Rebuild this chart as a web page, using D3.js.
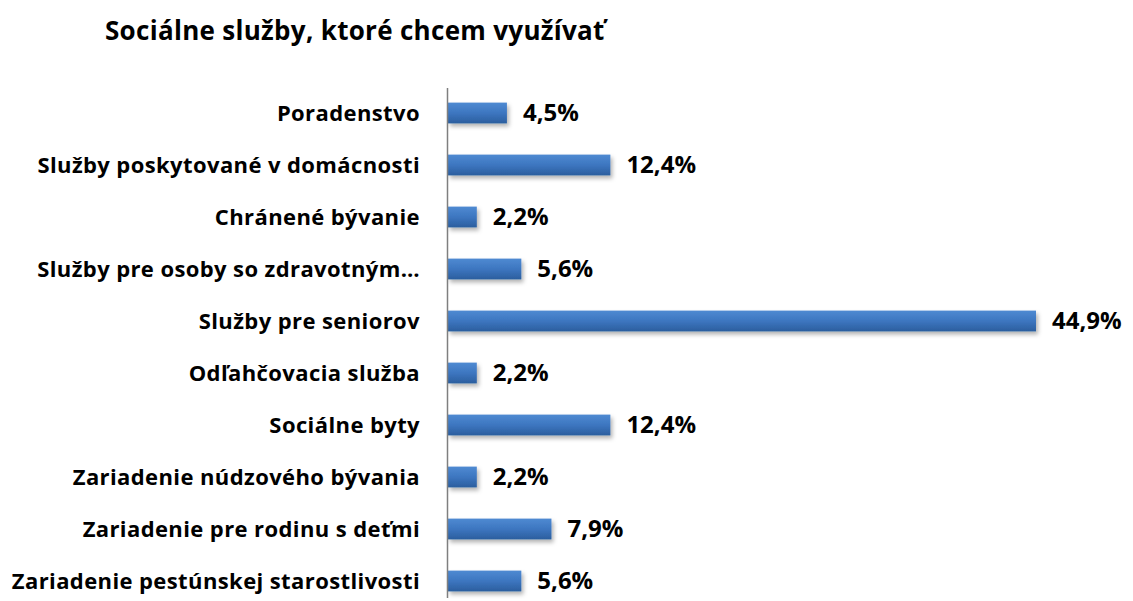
<!DOCTYPE html>
<html>
<head>
<meta charset="utf-8">
<script src="https://cdn.jsdelivr.net/npm/d3@7"></script>
<style>
  html, body { margin: 0; padding: 0; background: #fff; }
  svg { display: block; font-family: "Open Sans", Lato, sans-serif; }
</style>
</head>
<body>
<svg id="chart" width="1133" height="601"></svg>
<script>
  const categories = [
    'Poradenstvo',
    'Služby poskytované v domácnosti',
    'Chránené bývanie',
    'Služby pre osoby so zdravotným…',
    'Služby pre seniorov',
    'Odľahčovacia služba',
    'Sociálne byty',
    'Zariadenie núdzového bývania',
    'Zariadenie pre rodinu s deťmi',
    'Zariadenie pestúnskej starostlivosti'
  ];
  const values = [4.5, 12.4, 2.2, 5.6, 44.9, 2.2, 12.4, 2.2, 7.9, 5.6];
  const title = 'Sociálne služby, ktoré chcem využívať';

  const svg = d3.select('#chart');
  const axisX = 447;

  // gradient + tieň pre stĺpce
  const defs = svg.append('defs');
  const grad = defs.append('linearGradient')
    .attr('id', 'barGrad').attr('x1', 0).attr('y1', 0).attr('x2', 0).attr('y2', 1);
  grad.append('stop').attr('offset', '0%').attr('stop-color', '#4f8ad2');
  grad.append('stop').attr('offset', '50%').attr('stop-color', '#3d76c0');
  grad.append('stop').attr('offset', '100%').attr('stop-color', '#2b5e9e');
  const shadow = defs.append('filter').attr('id', 'shadow')
    .attr('x', '-10%').attr('y', '-30%').attr('width', '130%').attr('height', '180%');
  shadow.append('feDropShadow')
    .attr('dx', 2).attr('dy', 3).attr('stdDeviation', 2)
    .attr('flood-color', '#000').attr('flood-opacity', 0.3);

  const x = d3.scaleLinear().domain([0, 44.9]).range([axisX + 1, 1036]);
  const y = d3.scaleBand().domain(categories).range([87, 607]).paddingInner(0.6).paddingOuter(0.3);

  svg.append('text')
    .attr('x', 105).attr('y', 40)
    .attr('font-size', 26).attr('font-weight', 700).attr('fill', '#000')
    .attr('letter-spacing', 0.3)
    .text(title);

  svg.append('g').selectAll('rect')
    .data(values)
    .join('rect')
    .attr('x', x(0))
    .attr('y', (d, i) => y(categories[i]))
    .attr('width', d => x(d) - x(0))
    .attr('height', y.bandwidth())
    .attr('fill', 'url(#barGrad)')
    .attr('filter', 'url(#shadow)');

  svg.append('line')
    .attr('x1', axisX + 0.5).attr('x2', axisX + 0.5)
    .attr('y1', 88).attr('y2', 598)
    .attr('stroke', '#7f7f7f').attr('stroke-width', 1.5);

  svg.append('g').selectAll('text')
    .data(categories)
    .join('text')
    .attr('x', 420)
    .attr('y', d => y(d) + y.bandwidth() / 2)
    .attr('dy', '0.35em')
    .attr('text-anchor', 'end')
    .attr('font-size', 22).attr('font-weight', 700).attr('fill', '#000')
    .attr('letter-spacing', 0.4)
    .text(d => d);

  svg.append('g').selectAll('text')
    .data(values)
    .join('text')
    .attr('x', d => x(d) + 16)
    .attr('y', (d, i) => y(categories[i]) + y.bandwidth() / 2)
    .attr('dy', '0.35em')
    .attr('font-size', 24).attr('font-weight', 700).attr('fill', '#000')
    .text(d => d3.format('.1f')(d).replace('.', ',') + '%');
</script>
</body>
</html>
